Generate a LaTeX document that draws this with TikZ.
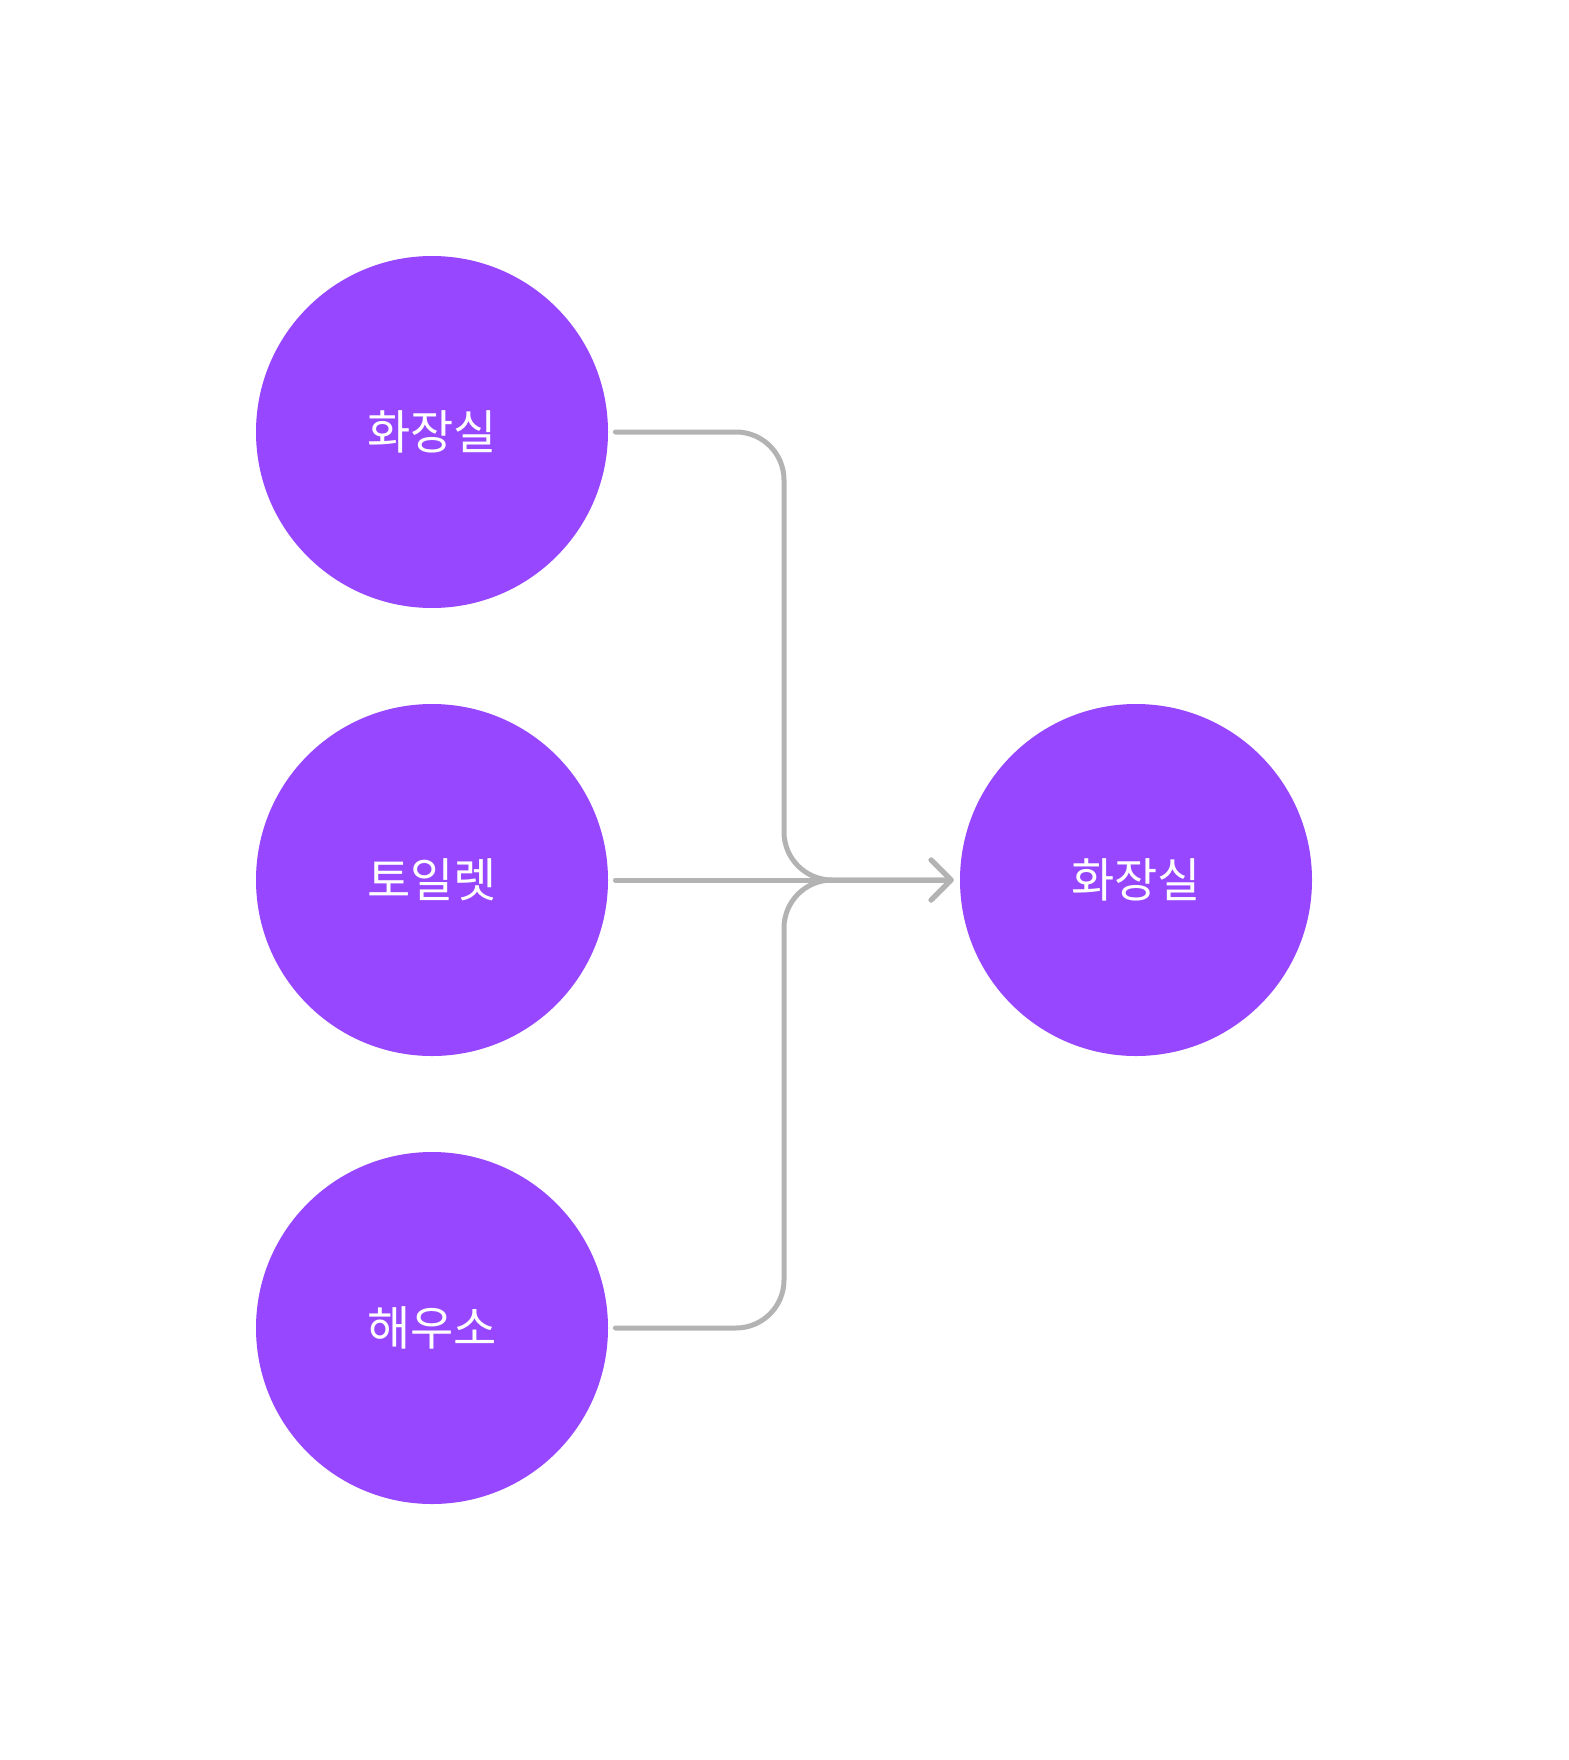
\documentclass[tikz,border=0pt]{standalone}
\usepackage{fontspec}
\newfontfamily\kr{Noto Sans CJK KR}
\usetikzlibrary{arrows.meta}
\definecolor{nodepurple}{HTML}{9747FF}
\definecolor{linkgray}{HTML}{B3B3B3}

\begin{document}
\begin{tikzpicture}[x=0.5pt, y=-0.5pt,
    word/.style={circle, fill=nodepurple, minimum size=176pt, inner sep=0pt, text=white, font=\kr\fontsize{23.5}{28}\selectfont},
    link/.style={linkgray, line width=2.5pt, line cap=round, rounded corners=24pt, shorten <=3.5pt, shorten >=3pt, -{Straight Barb[length=10pt, width=20pt, round]}}]
    \useasboundingbox (0, 0) rectangle (1568, 1760);
    \draw (432, 432) node[word](a1){화장실}
       (432, 880) node[word](a2){토일렛}
       (432, 1328) node[word](a3){해우소}
       (1136, 880) node[word](b){화장실};
    \coordinate (m) at (784, 880);

    \draw[link] (a1.east) -| (m) -- (b.west);
    \draw[link] (a2.east) -- (b.west);
    \draw[link] (a3.east) -| (m) -- (b.west);
\end{tikzpicture}
\end{document}
